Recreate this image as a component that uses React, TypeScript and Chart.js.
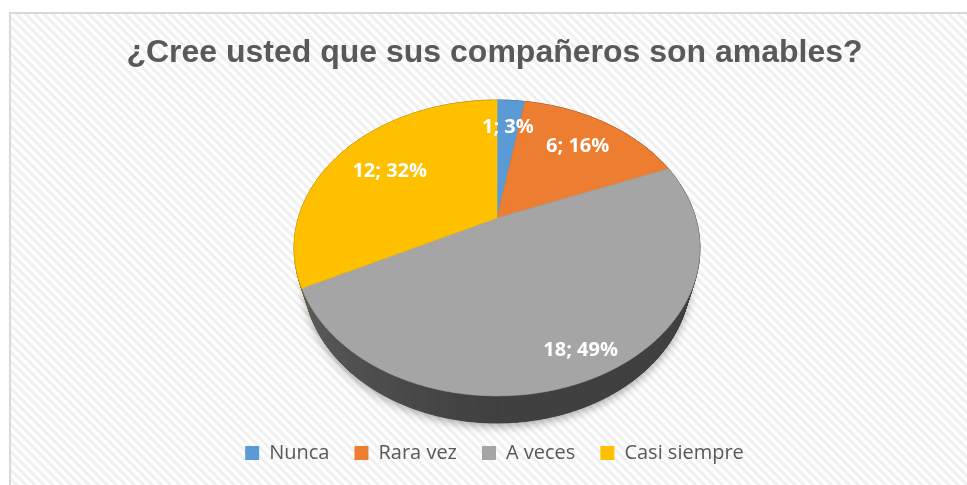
import React, { useEffect, useRef } from "react";
import { Chart, registerables } from "chart.js";

Chart.register(...registerables);

// ---- data ----
const categories = ["Nunca", "Rara vez", "A veces", "Casi siempre"];
const counts = [1, 6, 18, 12];
const sliceColors = ["#5B9BD5", "#ED7D31", "#A5A5A5", "#FFC000"];
const titleText = "¿Cree usted que sus compañeros son amables?";

// ---- style (positions / sizes, not data) ----
const LABEL_RADII = [0.74, 0.72, 0.86, 0.68];
const VIEW = { cx: 486, cy: 204, F: 686, D: 3.453, sinA: 0.714, cosA: 0.7, depth: 0.2235 };

function project(u: number, v: number, w: number): [number, number] {
  const z = VIEW.D - v * VIEW.cosA - w * VIEW.sinA;
  const yc = v * VIEW.sinA - w * VIEW.cosA;
  return [VIEW.cx + (VIEW.F * u) / z, VIEW.cy + (VIEW.F * yc) / z];
}

function hexToRgb(hex: string): [number, number, number] {
  const h = hex.replace("#", "");
  return [parseInt(h.slice(0, 2), 16), parseInt(h.slice(2, 4), 16), parseInt(h.slice(4, 6), 16)];
}

const pie3d = {
  id: "pie3d",
  beforeDatasetsDraw(chart: any) {
    const meta = chart.getDatasetMeta(0);
    const ctx: CanvasRenderingContext2D = chart.ctx;
    const arcs = meta.data.map((el: any) => ({
      start: el.startAngle as number,
      end: el.endAngle as number,
      color: el.options.backgroundColor as string,
    }));
    const h = VIEW.depth;
    const TWO_PI = Math.PI * 2;
    const findSlice = (a: number) => {
      let x = a;
      while (x < -Math.PI / 2) x += TWO_PI;
      while (x >= (3 * Math.PI) / 2) x -= TWO_PI;
      for (const arc of arcs) if (x >= arc.start && x < arc.end) return arc;
      return arcs[arcs.length - 1];
    };

    ctx.save();
    // soft shadow under the pie
    ctx.beginPath();
    for (let i = 0; i <= 360; i++) {
      const a = (i / 360) * TWO_PI;
      const [x, y] = project(Math.cos(a), Math.sin(a), -h);
      if (i === 0) ctx.moveTo(x, y);
      else ctx.lineTo(x, y);
    }
    ctx.closePath();
    ctx.shadowColor = "rgba(0,0,0,0.35)";
    ctx.shadowBlur = 10;
    ctx.shadowOffsetY = 3;
    ctx.fillStyle = "#444444";
    ctx.fill();
    ctx.restore();

    // side walls, back to front
    const steps = 720;
    const quads: { a0: number; a1: number; key: number }[] = [];
    for (let i = 0; i < steps; i++) {
      const a0 = (i / steps) * TWO_PI;
      const a1 = ((i + 1) / steps) * TWO_PI;
      quads.push({ a0, a1, key: Math.sin((a0 + a1) / 2) });
    }
    quads.sort((p, q) => p.key - q.key);
    ctx.save();
    for (const q of quads) {
      const mid = (q.a0 + q.a1) / 2;
      const arc = findSlice(mid);
      const [r, g, b] = hexToRgb(arc.color);
      const f = 0.39 + 0.19 * Math.pow(Math.max(0, -Math.cos(mid)), 1.3);
      const col = `rgb(${Math.round(r * f)},${Math.round(g * f)},${Math.round(b * f)})`;
      const p1 = project(Math.cos(q.a0), Math.sin(q.a0), 0);
      const p2 = project(Math.cos(q.a1), Math.sin(q.a1), 0);
      const p3 = project(Math.cos(q.a1), Math.sin(q.a1), -h);
      const p4 = project(Math.cos(q.a0), Math.sin(q.a0), -h);
      ctx.beginPath();
      ctx.moveTo(p1[0], p1[1]);
      ctx.lineTo(p2[0], p2[1]);
      ctx.lineTo(p3[0], p3[1]);
      ctx.lineTo(p4[0], p4[1]);
      ctx.closePath();
      ctx.fillStyle = col;
      ctx.strokeStyle = col;
      ctx.lineWidth = 0.8;
      ctx.fill();
      ctx.stroke();
    }
    ctx.restore();

    // top faces
    ctx.save();
    for (const arc of arcs) {
      const c = project(0, 0, 0);
      ctx.beginPath();
      ctx.moveTo(c[0], c[1]);
      const n = Math.max(2, Math.ceil(((arc.end - arc.start) / TWO_PI) * 720));
      for (let i = 0; i <= n; i++) {
        const a = arc.start + ((arc.end - arc.start) * i) / n;
        const [x, y] = project(Math.cos(a), Math.sin(a), 0);
        ctx.lineTo(x, y);
      }
      ctx.closePath();
      ctx.fillStyle = arc.color;
      ctx.strokeStyle = arc.color;
      ctx.lineWidth = 0.6;
      ctx.fill();
      ctx.stroke();
    }
    ctx.restore();

    // data labels
    const data: number[] = chart.data.datasets[0].data;
    const total = data.reduce((s, v) => s + v, 0);
    ctx.save();
    ctx.font = "bold 20px 'Open Sans'";
    ctx.fillStyle = "#ffffff";
    ctx.textAlign = "center";
    ctx.textBaseline = "middle";
    arcs.forEach((arc: any, i: number) => {
      const mid = (arc.start + arc.end) / 2;
      const r = LABEL_RADII[i];
      const [x, y] = project(r * Math.cos(mid), r * Math.sin(mid), 0);
      const text = `${data[i]}; ${Math.round((data[i] / total) * 100)}%`;
      ctx.fillText(text, x, y);
    });
    ctx.restore();
    return false;
  },
};

export default function App() {
  const ref = useRef<HTMLCanvasElement | null>(null);
  useEffect(() => {
    if (!ref.current) return;
    const chart = new Chart(ref.current, {
      type: "pie",
      data: {
        labels: categories,
        datasets: [
          {
            data: counts,
            backgroundColor: sliceColors,
            borderWidth: 0,
          },
        ],
      },
      options: {
        animation: false,
        responsive: false,
        devicePixelRatio: 1,
        events: [],
        layout: { padding: { top: 0, bottom: 12, left: 0, right: 0 } },
        plugins: {
          title: {
            display: true,
            text: titleText,
            color: "#595959",
            font: { family: "'Liberation Sans', Arial, sans-serif", weight: "bold", size: 32 },
            padding: { top: 20, bottom: 10 },
          },
          legend: {
            display: true,
            position: "bottom",
            labels: {
              boxWidth: 14,
              boxHeight: 14,
              padding: 25,
              color: "#595959",
              font: { family: "'Open Sans', sans-serif", size: 20 },
            },
          },
          tooltip: { enabled: false },
        },
      },
      plugins: [pie3d],
    });
    return () => chart.destroy();
  }, []);

  return (
    <div
      style={{
        position: "fixed",
        left: 9,
        top: 12,
        width: 967,
        height: 480,
        border: "2px solid #d9d9d9",
        background:
          "repeating-linear-gradient(45deg, #ffffff 0px, #ffffff 2px, #f0f0f0 3.2px, #f0f0f0 4.8px, #ffffff 6.4px)",
      }}
    >
      <canvas ref={ref} width={967} height={471} style={{ display: "block" }} />
    </div>
  );
}
